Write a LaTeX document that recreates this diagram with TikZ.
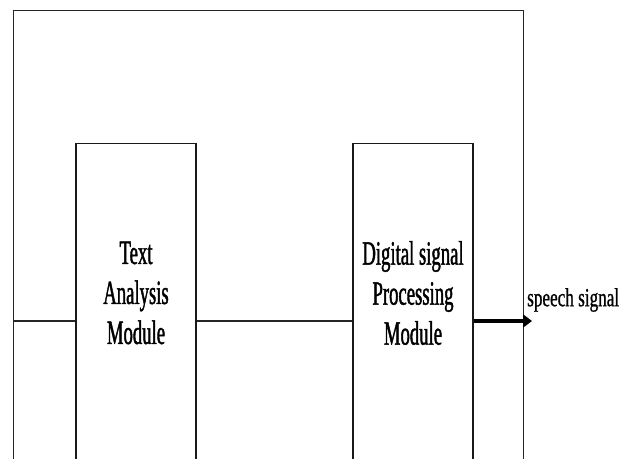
\documentclass[tikz,border=0pt]{standalone}
\usepackage{fontspec}
\setmainfont{Liberation Serif}
\newfontfamily\modfont[FakeStretch=0.55,FakeBold=1.2]{Liberation Serif}
\newfontfamily\outfont[FakeStretch=0.66,FakeBold=0.8]{Liberation Serif}
\usetikzlibrary{arrows.meta}
\begin{document}
\begin{tikzpicture}[x=1pt,y=1pt,
  frame/.style={draw=black!85,line width=1.4pt,minimum width=510pt,minimum height=500pt,anchor=north west,inner sep=0pt},
  module/.style={draw=black!90,line width=1.3pt,minimum width=120pt,minimum height=360pt,anchor=north,inner sep=0pt},
  modtext/.style={align=center,font=\modfont\fontsize{34}{40}\selectfont,inner sep=0pt},
  link/.style={draw=black!85,line width=1.6pt},
  outlink/.style={draw=black,line width=3.4pt,-{Triangle[length=9pt,width=13pt]}}]
\useasboundingbox (0,0) rectangle (624,458);
\clip (0,0) rectangle (624,458);
\fill[white] (0,0) rectangle (624,458);
% outer frame and the two modules (they run on past the lower edge)
\node[frame] (loop) at (13,448) {};
\node[module] (tam) at (136,315) {};
\node[module] (dsp) at (413,315) {};
\node[modtext] (tamtext) at (136,165) {Text\\Analysis\\Module};
\node[modtext] (dsptext) at (413,165) {Digital signal\\Processing\\Module};
% signal path
\coordinate (inl) at (loop.west |- 0,137);
\coordinate (tip) at (532,137);
\draw[link] (inl) -- (tam.west |- inl);
\draw[link] (tam.east |- inl) -- (dsp.west |- inl);
\draw[outlink] (dsp.east |- inl) -- (tip);
\node[anchor=west,font=\outfont\fontsize{26}{30}\selectfont,inner sep=0pt] (out) at (527,158) {speech signal};
\end{tikzpicture}
\end{document}
